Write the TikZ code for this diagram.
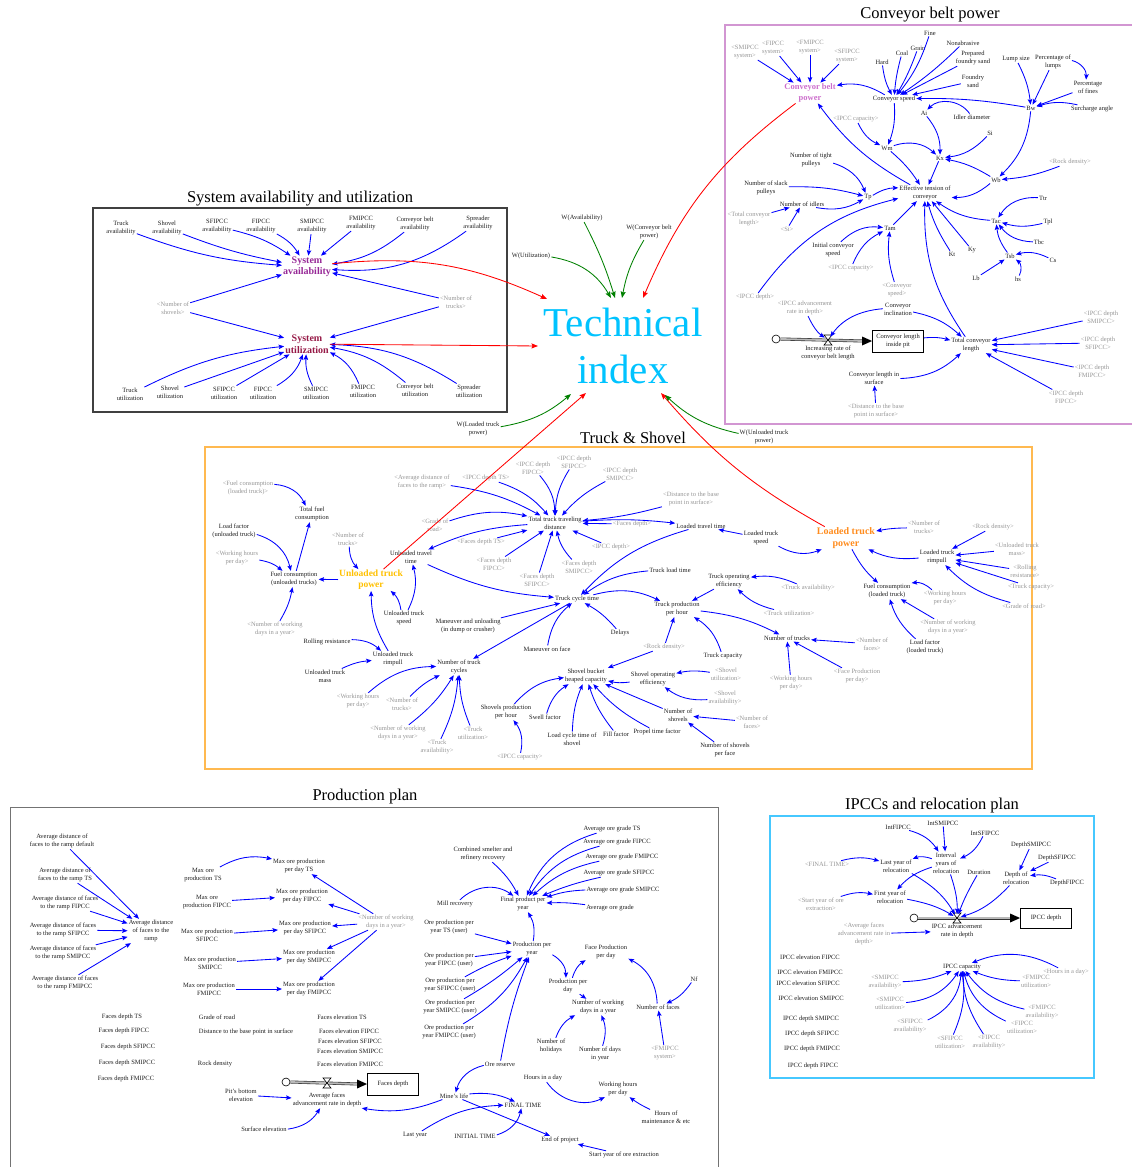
\documentclass[tikz,border=0pt]{standalone}
\usepackage{fontspec}
\setmainfont{Liberation Serif}
\usetikzlibrary{arrows.meta}
\definecolor{txt}{RGB}{30,30,30}
\definecolor{gtx}{RGB}{150,150,150}
\definecolor{tiblue}{RGB}{0,195,255}
\definecolor{cbpc}{RGB}{204,110,204}
\definecolor{sac}{RGB}{150,40,150}
\definecolor{suc}{RGB}{150,25,70}
\definecolor{utpc}{RGB}{255,192,0}
\definecolor{ltpc}{RGB}{255,140,30}
\definecolor{convb}{RGB}{210,150,210}
\definecolor{truckb}{RGB}{255,185,80}
\definecolor{ipccb}{RGB}{70,200,255}
\definecolor{greenarr}{RGB}{0,128,0}
\begin{document}
\begin{tikzpicture}[x=1pt,y=-1pt,
  lab/.style={font=\fontsize{6.5}{8}\selectfont, align=center, inner sep=1pt, text=txt},
  gl/.style={lab, text=gtx},
  e/.style={draw=blue, line width=0.85pt, -{Stealth[length=5.5pt,width=4.5pt,inset=1pt]}},
  re/.style={draw=red, line width=0.85pt, -{Stealth[length=6.5pt,width=5pt,inset=1pt]}},
  ge/.style={draw=greenarr, line width=0.85pt, -{Stealth[length=6.5pt,width=5pt,inset=1pt]}},
  L/.style={bend left=#1}, R/.style={bend right=#1},
  ttl/.style={font=\fontsize{16.5}{18}\selectfont, inner sep=0pt, text=black},
  stock/.style={lab, draw=black, line width=0.9pt, minimum width=51pt, minimum height=22pt},
  cloudn/.style={draw, circle, minimum size=8pt, inner sep=0pt, fill=white, line width=0.6pt},
  pipe/.style={draw=black!80, double=gray!55, double distance=1.8pt, line width=0.6pt},
  valve/.style={draw=black, fill=white, line width=0.6pt}
]
\useasboundingbox (0,0) rectangle (1132,1167);

% ---------- frames and titles
\draw[convb, line width=1.1pt] (725,25) rectangle (1145,424);
\draw[black!75, line width=1.3pt] (93,208) rectangle (507,412);
\draw[truckb, line width=1.1pt] (205,447) rectangle (1032,769);
\draw[black!55, line width=1pt] (10,807) rectangle (718,1175);
\draw[ipccb, line width=1.1pt] (770,816) rectangle (1094,1078);
\node[ttl] (tConv) at (930,15) {Conveyor belt power};
\node[ttl] (tSys) at (300,199) {System availability and utilization};
\node[ttl] (tTruck) at (633,438) {Truck \& Shovel};
\node[ttl] (tProd) at (365,797) {Production plan};
\node[ttl] (tIpcc) at (932,806) {IPCCs and relocation plan};

% ---------- technical index
\node[font=\fontsize{41}{47}\selectfont, text=tiblue, align=center, inner sep=0pt] (ti) at (623,346) {Technical\\index};
\coordinate (tiA) at (547,299);
\coordinate (tiB) at (611,298);
\coordinate (tiC) at (615,298);
\coordinate (tiD) at (622,298);
\coordinate (tiE) at (643,298);
\coordinate (tiF) at (538,346);
\coordinate (tiG) at (571,394);
\coordinate (tiH) at (586,393);
\coordinate (tiI) at (661,393);
\coordinate (tiJ) at (665,395);
\node[lab] (wav) at (582,218) {W(Availability)};
\node[lab] (wcb) at (649,232) {W(Conveyor belt\\power)};
\node[lab] (wut) at (531,256) {W(Utilization)};
\node[lab] (wlt) at (478,429) {W(Loaded truck\\power)};
\node[lab] (wut2) at (764,437) {W(Unloaded truck\\power)};

% ---------- conveyor nodes
\node[gl] (cSM) at (745,52) {<SMIPCC\\system>};
\node[gl] (cFI) at (773,48) {<FIPCC\\system>};
\node[gl] (cFM) at (810,47) {<FMIPCC\\system>};
\node[gl] (cSF) at (847,56) {<SFIPCC\\system>};
\node[lab,font=\fontsize{8.5}{10.7}\selectfont\bfseries,text=cbpc] (cbp) at (810,93) {Conveyor belt\\power};
\node[lab] (cspd) at (894,99) {Conveyor speed};
\node[lab] (chard) at (882,62) {Hard};
\node[lab] (ccoal) at (902,53) {Coal};
\node[lab] (cgrain) at (918,48) {Grain};
\node[lab] (cfine) at (930,33) {Fine};
\node[lab] (cnon) at (963,43) {Nonabrasive};
\node[lab] (cprep) at (973,58) {Prepared\\foundry sand};
\node[lab] (cfound) at (973,81) {Foundry\\sand};
\node[lab] (clump) at (1016,59) {Lump size};
\node[lab] (cplump) at (1053,62) {Percentage of\\lumps};
\node[lab] (cpfine) at (1088,87) {Percentage\\of fines};
\node[lab] (cbw) at (1031,108) {Bw};
\node[lab] (csurch) at (1092,109) {Surcharge angle};
\node[lab] (cai) at (924,113) {Ai};
\node[lab] (cidl) at (972,117) {Idler diameter};
\node[gl] (ccap) at (856,119) {<IPCC capacity>};
\node[lab] (csi) at (990,133) {Si};
\node[lab] (cwm) at (887,148) {Wm};
\node[lab] (ckx) at (940,158) {Kx};
\node[gl] (crock) at (1070,162) {<Rock density>};
\node[lab] (cwb) at (996,180) {Wb};
\node[lab] (ctight) at (811,160) {Number of tight\\pulleys};
\node[lab] (cslack) at (766,188) {Number of slack\\pulleys};
\node[lab] (ctp) at (868,197) {Tp};
\node[lab] (ceff) at (925,193) {Effective tension of\\conveyor};
\node[lab] (cidlers) at (802,204) {Number of idlers};
\node[lab] (cttr) at (1043,198) {Ttr};
\node[gl] (ctcl) at (749,219) {<Total conveyor\\length>};
\node[gl] (csi2) at (787,229) {<Si>};
\node[lab] (ctam) at (890,228) {Tam};
\node[lab] (ckt) at (952,254) {Kt};
\node[lab] (cky) at (972,250) {Ky};
\node[lab] (ctac) at (996,221) {Tac};
\node[lab] (ctpl) at (1048,222) {Tpl};
\node[lab] (ctbc) at (1039,242) {Tbc};
\node[lab] (ctsb) at (1010,256) {Tsb};
\node[lab] (ccs) at (1053,260) {Cs};
\node[lab] (clb) at (976,278) {Lb};
\node[lab] (chs) at (1018,279) {hs};
\node[lab] (cinit) at (833,250) {Initial conveyor\\speed};
\node[gl] (ccap2) at (851,268) {<IPCC capacity>};
\node[gl] (cspd2) at (897,290) {<Conveyor\\speed>};
\node[gl] (cdepth) at (755,297) {<IPCC depth>};
\node[gl] (cadv) at (805,308) {<IPCC advancement\\rate in depth>};
\node[lab] (cincl) at (898,309) {Conveyor\\inclination};
\node[lab] (cinc) at (828,353) {Increasing rate of\\conveyor belt length};
\node[stock] (cstock) at (898,341) {Conveyor length\\inside pit};
\node[lab] (ctot) at (971,345) {Total conveyor\\length};
\node[gl] (cdSM) at (1101,317) {<IPCC depth\\SMIPCC>};
\node[gl] (cdSF) at (1098,343) {<IPCC depth\\SFIPCC>};
\node[gl] (cdFM) at (1092,371) {<IPCC depth\\FMIPCC>};
\node[gl] (cdFI) at (1066,397) {<IPCC depth\\FIPCC>};
\node[lab] (csurf) at (874,378) {Conveyor length in\\surface};
\node[gl] (cdist) at (876,411) {<Distance to the base\\point in surface>};
\node[cloudn] (ccloud) at (776,339) {};
\coordinate (cvalve) at (828,340);
\draw[pipe] (ccloud.east) -- ([xshift=-8pt]cstock.west);
\fill[black] (cstock.west) -- ++(-10,-4.5) -- ++(0,9) -- cycle;
\draw[valve] (cvalve) ++(-4,-5) -- ++(8,0) -- ++(-8,10) -- ++(8,0) -- cycle;

% conveyor edges
\draw[e] (cSM) -- (cbp);
\draw[e] (cFI) -- (cbp);
\draw[e] (cFM) -- (cbp);
\draw[e] (cSF) -- (cbp);
\draw[e] (cspd) to[R=20] (cbp);
\draw[e] (ceff) to[L=12] (cbp);
\draw[e] (chard) to[R=10] (cspd);
\draw[e] (ccoal) to[R=5] (cspd);
\draw[e] (cgrain) to[L=5] (cspd);
\draw[e] (cfine) to[L=10] (cspd);
\draw[e] (cnon) to[L=5] (cspd);
\draw[e] (cprep) -- (cspd);
\draw[e] (cfound) -- (cspd);
\draw[e] (cbw) to[R=5] (cspd);
\draw[e] (clump) to[L=10] (cbw);
\draw[e] (cplump) -- (cbw);
\draw[e] (cplump) to[L=40] (cpfine);
\draw[e] (cpfine) -- (cbw);
\draw[e] (csurch) to[R=15] (cbw);
\draw[e] (cidl) to[R=50] (cai);
\draw[e] (cai) to[L=20] (ckx);
\draw[e] (cspd) to[L=12] (cwm);
\draw[e] (ccap) to[R=20] (cwm);
\draw[e] (cwm) to[L=30] (ckx);
\draw[e] (cwm) to[L=8] (ceff);
\draw[e] (csi) to[L=20] (ckx);
\draw[e] (cwb) to[R=10] (ckx);
\draw[e] (ckx) -- (ceff);
\draw[e] (cbw) to[L=20] (cwb);
\draw[e] (crock) to[L=8] (cwb);
\draw[e] (cwb) to[L=20] (ceff);
\draw[e] (ctight) to[L=25] (ctp);
\draw[e] (cslack) to[L=8] (ctp);
\draw[e] (cidlers) to[R=20] (ctp);
\draw[e] (ctcl) -- (cidlers);
\draw[e] (csi2) -- (cidlers);
\draw[e] (ctp) to[L=15] (ceff);
\draw[e] (cttr) to[R=30] (ctac);
\draw[e] (ctpl) to[L=15] (ctac);
\draw[e] (ctbc) to[L=25] (ctac);
\draw[e] (ctsb) to[L=15] (ctac);
\draw[e] (ccs) to[R=20] (ctsb);
\draw[e] (clb) -- (ctsb);
\draw[e] (chs) to[R=40] (ctsb);
\draw[e] (ctac) to[L=15] (ceff);
\draw[e] (ckt) to[L=8] (ceff);
\draw[e] (cky) -- (ceff);
\draw[e] (ctam) -- (ceff);
\draw[e] (cinit) to[L=25] (ctam);
\draw[e] (ccap2) to[L=20] (ctam);
\draw[e] (cspd2) to[L=12] (ctam);
\draw[e] (cdepth) to[L=20] (ceff);
\draw[e] (ctot) to[L=18] (ceff);
\draw[e] (cincl) to[L=15] (ctot);
\draw[e, shorten >=4pt] (cadv) to[R=15] (cvalve);
\draw[e, shorten >=4pt] (cincl) to[R=25] (cvalve);
\draw[e] (cstock) to[L=10] (ctot);
\draw[e] (cdSM) -- (ctot);
\draw[e] (cdSF) -- (ctot);
\draw[e] (cdFM) -- (ctot);
\draw[e] (cdFI) -- (ctot);
\draw[e] (csurf) to[R=20] (ctot);
\draw[e] (cdist) -- (csurf);

% ---------- system availability and utilization
\node[lab] (sT) at (121,228) {Truck\\availability};
\node[lab] (sS) at (167,228) {Shovel\\availability};
\node[lab] (sSF) at (217,226) {SFIPCC\\availability};
\node[lab] (sFI) at (261,226) {FIPCC\\availability};
\node[lab] (sSM) at (312,226) {SMIPCC\\availability};
\node[lab] (sFM) at (361,223) {FMIPCC\\availability};
\node[lab] (sCB) at (415,224) {Conveyor belt\\availability};
\node[lab] (sSp) at (478,223) {Spreader\\availability};
\node[lab,font=\fontsize{10}{11.5}\selectfont\bfseries,text=sac] (sa) at (307,267) {System\\availability};
\node[gl] (sns) at (173,308) {<Number of\\shovels>};
\node[gl] (snt) at (456,302) {<Number of\\trucks>};
\node[lab,font=\fontsize{10}{11.5}\selectfont\bfseries,text=suc] (su) at (307,344) {System\\utilization};
\node[lab] (uT) at (130,394) {Truck\\utilization};
\node[lab] (uS) at (170,392) {Shovel\\utilization};
\node[lab] (uSF) at (224,393) {SFIPCC\\utilization};
\node[lab] (uFI) at (263,393) {FIPCC\\utilization};
\node[lab] (uSM) at (316,393) {SMIPCC\\utilization};
\node[lab] (uFM) at (363,391) {FMIPCC\\utilization};
\node[lab] (uCB) at (415,390) {Conveyor belt\\utilization};
\node[lab] (uSp) at (469,391) {Spreader\\utilization};
\draw[e] (sT) to[R=8] (sa);
\draw[e] (sS) to[R=5] (sa);
\draw[e] (sSF) to[L=10] (sa);
\draw[e] (sFI) to[L=15] (sa);
\draw[e] (sSM) -- (sa);
\draw[e] (sFM) -- (sa);
\draw[e] (sCB) to[L=15] (sa);
\draw[e] (sSp) to[L=20] (sa);
\draw[e] (sns) -- (sa);
\draw[e] (sns) -- (su);
\draw[e] (snt) -- (sa);
\draw[e] (snt) -- (su);
\draw[e] (uT) to[L=10] (su);
\draw[e] (uS) -- (su);
\draw[e] (uSF) -- (su);
\draw[e] (uFI) to[R=20] (su);
\draw[e] (uSM) to[L=15] (su);
\draw[e] (uFM) to[R=20] (su);
\draw[e] (uCB) to[R=15] (su);
\draw[e] (uSp) to[R=15] (su);

% ---------- truck and shovel nodes
\node[gl] (tfcl0) at (248,488) {<Fuel consumption\\(loaded truck)>};
\node[lab] (ttfc) at (312,514) {Total fuel\\consumption};
\node[lab] (tlfu) at (234,531) {Load factor\\(unloaded truck)};
\node[gl] (twh) at (237,558) {<Working hours\\per day>};
\node[lab] (tfcu) at (294,579) {Fuel consumption\\(unloaded trucks)};
\node[gl] (tnt) at (348,539) {<Number of\\trucks>};
\node[lab,font=\fontsize{9.5}{10.8}\selectfont\bfseries,text=utpc] (tutp) at (371,580) {Unloaded truck\\power};
\node[lab] (tutt) at (411,557) {Unloaded travel\\time};
\node[gl] (tavg) at (422,482) {<Average distance of\\faces to the ramp>};
\node[gl] (tiTS) at (486,478) {<IPCC depth TS>};
\node[gl] (tiFI) at (533,468) {<IPCC depth\\FIPCC>};
\node[gl] (tiSF) at (574,462) {<IPCC depth\\SFIPCC>};
\node[gl] (tiSM) at (620,474) {<IPCC depth\\SMIPCC>};
\node[gl] (tgr) at (435,525) {<Grade of\\road>};
\node[lab] (tttd) at (555,523) {Total truck traveling\\distance};
\node[gl] (tfdTS) at (481,542) {<Faces depth TS>};
\node[gl] (tfdFI) at (494,564) {<Faces depth\\FIPCC>};
\node[gl] (tfdSF) at (537,580) {<Faces depth\\SFIPCC>};
\node[gl] (tfdSM) at (579,567) {<Faces depth\\SMIPCC>};
\node[gl] (tfd) at (632,524) {<Faces depth>};
\node[gl] (tidp) at (611,547) {<IPCC depth>};
\node[gl] (tdist) at (691,499) {<Distance to the base\\point in surface>};
\node[lab] (tlt) at (701,526) {Loaded travel time};
\node[lab] (tlts) at (761,538) {Loaded truck\\speed};
\node[lab,font=\fontsize{10}{11.2}\selectfont\bfseries,text=ltpc] (tltp) at (846,538) {Loaded truck\\power};
\node[gl] (tnt2) at (924,527) {<Number of\\trucks>};
\node[gl] (trock) at (993,527) {<Rock density>};
\node[gl] (tutm2) at (1017,549) {<Unloaded truck\\mass>};
\node[lab] (tltr) at (937,557) {Loaded truck\\rimpull};
\node[gl] (trr2) at (1025,571) {<Rolling\\resistance>};
\node[gl] (ttc2) at (1031,587) {<Truck capacity>};
\node[gl] (tgr2) at (1024,606) {<Grade of road>};
\node[lab] (tfcl) at (887,591) {Fuel consumption\\(loaded truck)};
\node[gl] (twh2) at (945,598) {<Working hours\\per day>};
\node[gl] (tnwd2) at (948,627) {<Number of working\\days in a year>};
\node[lab] (tlfl) at (925,647) {Load factor\\(loaded truck)};
\node[lab] (ttlt) at (670,570) {Truck load time};
\node[lab] (ttoe) at (729,581) {Truck operating\\efficiency};
\node[gl] (ttav) at (808,588) {<Truck availability>};
\node[gl] (ttut) at (789,613) {<Truck utilization>};
\node[lab] (ttph) at (677,609) {Truck production\\per hour};
\node[lab] (tnot) at (787,638) {Number of trucks};
\node[lab] (ttct) at (577,599) {Truck cycle time};
\node[lab] (tdel) at (620,633) {Delays};
\node[lab] (tuts) at (404,618) {Unloaded truck\\speed};
\node[gl] (tnwd) at (275,629) {<Number of working\\days in a year>};
\node[lab] (tmu) at (468,626) {Maneuver and unloading\\(in dump or crusher)};
\node[lab] (tmf) at (547,649) {Maneuver on face};
\node[lab] (trr) at (327,642) {Rolling resistance};
\node[lab] (tutr) at (393,659) {Unloaded truck\\rimpull};
\node[lab] (tutm) at (325,676) {Unloaded truck\\mass};
\node[lab] (tntc) at (459,667) {Number of truck\\cycles};
\node[gl] (twh4) at (358,701) {<Working hours\\per day>};
\node[gl] (tnt4) at (402,704) {<Number of\\trucks>};
\node[gl] (tnwd4) at (398,733) {<Number of working\\days in a year>};
\node[gl] (ttav4) at (437,747) {<Truck\\availability>};
\node[gl] (ttut4) at (473,733) {<Truck\\utilization>};
\node[lab] (tsbh) at (586,676) {Shovel bucket\\heaped capacity};
\node[lab] (tspph) at (506,712) {Shovels production\\per hour};
\node[lab] (tswell) at (545,717) {Swell factor};
\node[lab] (tlct) at (572,739) {Load cycle time of\\shovel};
\node[lab] (tff) at (616,734) {Fill factor};
\node[gl] (tcap3) at (520,757) {<IPCC capacity>};
\node[lab] (tptf) at (657,732) {Propel time factor};
\node[lab] (tns) at (678,715) {Number of\\shovels};
\node[gl] (tnf2) at (752,722) {<Number of\\faces>};
\node[lab] (tnspf) at (725,750) {Number of shovels\\per face};
\node[lab] (tsoe) at (653,679) {Shovel operating\\efficiency};
\node[gl] (tsut) at (726,674) {<Shovel\\utilization>};
\node[gl] (tsav) at (725,698) {<Shovel\\availability>};
\node[gl] (trock3) at (664,647) {<Rock density>};
\node[lab] (ttcap) at (723,656) {Truck capacity};
\node[gl] (twh3) at (791,683) {<Working hours\\per day>};
\node[gl] (tfp) at (857,676) {<Face Production\\per day>};
\node[gl] (tnf) at (872,644) {<Number of\\faces>};

% truck edges
\draw[e] (tfcl0) to[L=30] (ttfc);
\draw[e] (tfcu) -- (ttfc);
\draw[e] (tlfu) to[L=30] (tfcu);
\draw[e] (twh) to[L=15] (tfcu);
\draw[e] (tutp) -- (tfcu);
\draw[e] (tnwd) to[R=10] (tfcu);
\draw[e] (tnt) to[R=20] (tutp);
\draw[e] (tuts) to[R=20] (tutp);
\draw[e] (tuts) to[R=20] (tutt);
\draw[e] (tutr) to[L=15] (tutp);
\draw[e] (trr) to[L=20] (tutr);
\draw[e] (tutm) to[L=10] (tutr);
\draw[e] (tttd) to[R=10] (tutt);
\draw[e] (tutt) to[R=10] (ttct);
\draw[e] (tavg) to[L=10] (tttd);
\draw[e] (tiTS) to[L=15] (tttd);
\draw[e] (tiFI) to[L=20] (tttd);
\draw[e] (tiSF) to[R=15] (tttd);
\draw[e] (tiSM) to[R=10] (tttd);
\draw[e] (tgr) to[L=15] (tttd);
\draw[e] (tfdTS) -- (tttd);
\draw[e] (tfdFI) -- (tttd);
\draw[e] (tfdSF) -- (tttd);
\draw[e] (tfdSM) to[L=15] (tttd);
\draw[e] (tfd) -- (tttd);
\draw[e] (tidp) -- (tttd);
\draw[e] (tdist) to[L=5] (tttd);
\draw[e] (tttd) to[L=5] (tlt);
\draw[e] (tlts) -- (tlt);
\draw[e] (tlts) to[R=25] (tltp);
\draw[e] (tlt) to[R=15] (ttct);
\draw[e] (ttlt) to[R=15] (ttct);
\draw[e] (tnt2) to[R=5] (tltp);
\draw[e] (tltr) to[L=15] (tltp);
\draw[e] (trock) -- (tltr);
\draw[e] (tutm2) -- (tltr);
\draw[e] (trr2) -- (tltr);
\draw[e] (ttc2) -- (tltr);
\draw[e] (tgr2) to[L=15] (tltr);
\draw[e] (tltp) to[R=10] (tfcl);
\draw[e] (twh2) to[R=25] (tfcl);
\draw[e] (tnwd2) -- (tfcl);
\draw[e] (tlfl) to[L=15] (tfcl);
\draw[e] (ttav) to[R=15] (ttoe);
\draw[e] (ttut) to[L=15] (ttoe);
\draw[e] (ttoe) -- (ttph);
\draw[e] (ttct) to[L=20] (ttph);
\draw[e] (ttct) -- (tntc);
\draw[e] (tmu) -- (ttct);
\draw[e] (tmf) to[L=20] (ttct);
\draw[e] (tdel) to[R=10] (ttct);
\draw[e] (ttph) to[L=10] (tnot);
\draw[e] (trock3) -- (ttph);
\draw[e] (ttcap) to[R=20] (ttph);
\draw[e] (tnf) -- (tnot);
\draw[e] (twh3) -- (tnot);
\draw[e] (tfp) -- (tnot);
\draw[e] (trock3) -- (tsbh);
\draw[e] (tsoe) to[L=10] (tsbh);
\draw[e] (tsut) to[R=10] (tsoe);
\draw[e] (tsav) to[L=20] (tsoe);
\draw[e] (tns) -- (tsbh);
\draw[e] (tnf2) -- (tns);
\draw[e] (tnspf) -- (tns);
\draw[e] (tptf) to[L=10] (tsbh);
\draw[e] (tff) to[L=10] (tsbh);
\draw[e] (tlct) to[L=10] (tsbh);
\draw[e] (tswell) to[L=20] (tsbh);
\draw[e] (tspph) to[L=20] (tsbh);
\draw[e] (tcap3) to[R=25] (tspph);
\draw[e] (twh4) to[L=20] (tntc);
\draw[e] (tnt4) to[L=10] (tntc);
\draw[e] (tnwd4) to[R=10] (tntc);
\draw[e] (ttav4) to[R=10] (tntc);
\draw[e] (ttut4) to[L=10] (tntc);

% ---------- production plan nodes
\node[lab] (padd) at (62,841) {Average distance of\\faces to the ramp default};
\node[lab] (padTS) at (65,875) {Average distance of\\faces to the ramp TS};
\node[lab] (padFI) at (65,903) {Average distance of faces\\to the ramp FIPCC};
\node[lab] (padSF) at (63,930) {Average distance of faces\\to the ramp SFIPCC};
\node[lab] (padSM) at (63,953) {Average distance of faces\\to the ramp SMIPCC};
\node[lab] (padFM) at (65,983) {Average distance of faces\\to the ramp FMIPCC};
\node[lab] (pavg) at (151,931) {Average distance\\of faces to the\\ramp};
\node[lab] (pmTS) at (203,875) {Max ore\\production TS};
\node[lab] (pmdTS) at (299,866) {Max ore production\\per day TS};
\node[lab] (pmFI) at (207,902) {Max ore\\production FIPCC};
\node[lab] (pmdFI) at (302,896) {Max ore production\\per day FIPCC};
\node[lab] (pmSF) at (207,935) {Max ore production\\SFIPCC};
\node[lab] (pmdSF) at (305,928) {Max ore production\\per day SFIPCC};
\node[lab] (pmSM) at (210,963) {Max ore production\\SMIPCC};
\node[lab] (pmdSM) at (309,957) {Max ore production\\per day SMIPCC};
\node[lab] (pmFM) at (209,989) {Max ore production\\FMIPCC};
\node[lab] (pmdFM) at (309,989) {Max ore production\\per day FMIPCC};
\node[gl] (pnwd) at (386,922) {<Number of working\\days in a year>};
\node[lab] (pfTS) at (122,1017) {Faces depth TS};
\node[lab] (pfFI) at (124,1031) {Faces depth FIPCC};
\node[lab] (pfSF) at (128,1047) {Faces depth SFIPCC};
\node[lab] (pfSM) at (127,1063) {Faces depth SMIPCC};
\node[lab] (pfFM) at (126,1079) {Faces depth FMIPCC};
\node[lab] (pgrade) at (217,1017) {Grade of road};
\node[lab] (pdist) at (246,1032) {Distance to the base point in surface};
\node[lab] (prock) at (215,1064) {Rock density};
\node[lab] (peTS) at (342,1017) {Faces elevation TS};
\node[lab] (peFI) at (349,1031) {Faces elevation FIPCC};
\node[lab] (peSF) at (350,1041) {Faces elevation SFIPCC};
\node[lab] (peSM) at (350,1051) {Faces elevation SMIPCC};
\node[lab] (peFM) at (350,1064) {Faces elevation FMIPCC};
\node[cloudn] (pcloud) at (286,1082) {};
\coordinate (pvalve) at (327,1083);
\node[stock] (pstock) at (393,1084) {Faces depth};
\draw[pipe] (pcloud.east) -- ([xshift=-8pt]pstock.west);
\fill[black] (pstock.west) -- ++(-10,-4.5) -- ++(0,9) -- cycle;
\draw[valve] (pvalve) ++(-4,-5) -- ++(8,0) -- ++(-8,10) -- ++(8,0) -- cycle;
\node[lab] (ppit) at (241,1095) {Pit's bottom\\elevation};
\node[lab] (pafa) at (327,1100) {Average faces\\advancement rate in depth};
\node[lab] (psurf) at (264,1129) {Surface elevation};
\node[lab] (pore) at (500,1064) {Ore reserve};
\node[lab] (pml) at (454,1096) {Mine's life};
\node[lab] (pft) at (523,1105) {FINAL TIME};
\node[lab] (plast) at (415,1135) {Last year};
\node[lab] (pinit) at (475,1136) {INITIAL TIME};
\node[lab] (peop) at (560,1140) {End of project};
\node[lab] (pstart) at (624,1155) {Start year of ore extraction};
\node[lab] (phid) at (543,1078) {Hours in a day};
\node[lab] (pwh) at (618,1089) {Working hours\\per day};
\node[lab] (phm) at (666,1117) {Hours of\\maintenance \& etc};
\node[lab] (phol) at (551,1046) {Number of\\holidays};
\node[lab] (pdays) at (600,1054) {Number of days\\in year};
\node[gl] (pfmi) at (665,1053) {<FMIPCC\\system>};
\node[lab] (pgTS) at (612,829) {Average ore grade TS};
\node[lab] (pgFI) at (617,842) {Average ore grade FIPCC};
\node[lab] (pgFM) at (622,857) {Average ore grade FMIPCC};
\node[lab] (pgSF) at (619,873) {Average ore grade SFIPCC};
\node[lab] (pgSM) at (623,890) {Average ore grade SMIPCC};
\node[lab] (pg) at (610,908) {Average ore grade};
\node[lab] (pcomb) at (483,854) {Combined smelter and\\refinery recovery};
\node[lab] (pfpy) at (523,904) {Final product per\\year};
\node[lab] (pmill) at (455,904) {Mill recovery};
\node[lab] (popTS) at (449,927) {Ore production per\\year TS (user)};
\node[lab] (pppy) at (532,949) {Production per\\year};
\node[lab] (popFI) at (449,960) {Ore production per\\year FIPCC (user)};
\node[lab] (popSF) at (450,985) {Ore production per\\year SFIPCC (user)};
\node[lab] (popSM) at (450,1007) {Ore production per\\year SMIPCC (user)};
\node[lab] (popFM) at (449,1032) {Ore production per\\year FMIPCC (user)};
\node[lab] (pfppd) at (606,952) {Face Production\\per day};
\node[lab] (pppd) at (568,986) {Production per\\day};
\node[lab] (pnwdy) at (598,1007) {Number of working\\days in a year};
\node[lab] (pnf) at (658,1007) {Number of faces};
\node[lab] (pNf) at (694,979) {Nf};

% production edges
\draw[e] (padd) -- (pavg);
\draw[e] (padTS) -- (pavg);
\draw[e] (padFI) -- (pavg);
\draw[e] (padSF) -- (pavg);
\draw[e] (padSM) -- (pavg);
\draw[e] (padFM) -- (pavg);
\draw[e] (pmTS) to[L=20] (pmdTS);
\draw[e] (pmFI) -- (pmdFI);
\draw[e] (pmSF) -- (pmdSF);
\draw[e] (pmSM) -- (pmdSM);
\draw[e] (pmFM) -- (pmdFM);
\draw[e] (pnwd) -- (pmdTS);
\draw[e] (pnwd) -- (pmdFI);
\draw[e] (pnwd) -- (pmdSF);
\draw[e] (pnwd) -- (pmdSM);
\draw[e] (pnwd) -- (pmdFM);
\draw[e] (pcomb) to[L=10] (pfpy);
\draw[e] (pmill) to[L=40] (pfpy);
\draw[e] (pgTS) to[R=25] (pfpy);
\draw[e] (pgFI) to[R=20] (pfpy);
\draw[e] (pgFM) to[R=15] (pfpy);
\draw[e] (pgSF) to[R=5] (pfpy);
\draw[e] (pgSM) to[R=8] (pfpy);
\draw[e] (pg) to[R=5] (pfpy);
\draw[e] (pppy) to[R=20] (pfpy);
\draw[e] (popTS) -- (pppy);
\draw[e] (popFI) -- (pppy);
\draw[e] (popSF) to[L=5] (pppy);
\draw[e] (popSM) to[R=5] (pppy);
\draw[e] (popFM) to[R=15] (pppy);
\draw[e] (pore) to[L=5] (pppy);
\draw[e] (pppy) to[L=30] (pppd);
\draw[e] (pppd) to[L=20] (pfppd);
\draw[e] (pppd) -- (pnwdy);
\draw[e] (phol) to[L=20] (pnwdy);
\draw[e] (pdays) to[R=20] (pnwdy);
\draw[e] (pnf) to[R=30] (pfppd);
\draw[e] (pNf) to[L=15] (pnf);
\draw[e] (pfmi) -- (pnf);
\draw[e] (ppit) -- (pafa);
\draw[e] (psurf) to[R=25] (pafa);
\draw[e] (pml) to[L=15] (pafa);
\draw[e] (pore) to[R=30] (pml);
\draw[e] (pml) to[L=15] (pft);
\draw[e] (pml) -- (peop);
\draw[e] (plast) to[L=15] (pft);
\draw[e] (pinit) to[R=30] (pft);
\draw[e] (pstart) -- (peop);
\draw[e] (phid) to[R=40] (pwh);
\draw[e] (phm) to[L=5] (pwh);

% ---------- IPCC nodes
\node[lab] (iif) at (898,827) {IntFIPCC};
\node[lab] (iism) at (943,823) {IntSMIPCC};
\node[lab] (iisf) at (985,833) {IntSFIPCC};
\node[lab] (iint) at (946,863) {Interval\\years of\\relocation};
\node[lab] (ily) at (896,866) {Last year of\\relocation};
\node[gl] (ift) at (827,864) {<FINAL TIME>};
\node[lab] (idur) at (979,872) {Duration};
\node[lab] (idsm) at (1031,845) {DepthSMIPCC};
\node[lab] (idsf) at (1057,858) {DepthSFIPCC};
\node[lab] (idor) at (1016,878) {Depth of\\relocation};
\node[lab] (idfi) at (1067,883) {DepthFIPCC};
\node[lab] (ify) at (890,897) {First year of\\relocation};
\node[gl] (isy) at (821,904) {<Start year of ore\\extraction>};
\node[cloudn] (icloud) at (914,918) {};
\coordinate (ivalve) at (957,918);
\node[stock, minimum height=20pt] (istock) at (1046,918) {IPCC depth};
\draw[pipe] (icloud.east) -- ([xshift=-8pt]istock.west);
\fill[black] (istock.west) -- ++(-10,-4.5) -- ++(0,9) -- cycle;
\draw[valve] (ivalve) ++(-4,-5) -- ++(8,0) -- ++(-8,10) -- ++(8,0) -- cycle;
\node[lab] (iiar) at (957,931) {IPCC advancement\\rate in depth};
\node[gl] (iafa) at (864,934) {<Average faces\\advancement rate in\\depth>};
\node[lab] (icap) at (962,967) {IPCC capacity};
\node[gl] (ih) at (1066,972) {<Hours in a day>};
\node[gl] (ismav) at (885,982) {<SMIPCC\\availability>};
\node[gl] (ifmu) at (1036,981) {<FMIPCC\\utilization>};
\node[gl] (ismu) at (890,1003) {<SMIPCC\\utilization>};
\node[gl] (ifma) at (1042,1012) {<FMIPCC\\availability>};
\node[gl] (isfa) at (910,1026) {<SFIPCC\\availability>};
\node[gl] (ifiu) at (1022,1027) {<FIPCC\\utilization>};
\node[gl] (isfu) at (950,1042) {<SFIPCC\\utilization>};
\node[gl] (ifia) at (989,1042) {<FIPCC\\availability>};
\node[lab] (ieFI) at (810,957) {IPCC elevation FIPCC};
\node[lab] (ieFM) at (810,972) {IPCC elevation FMIPCC};
\node[lab] (ieSF) at (808,983) {IPCC elevation SFIPCC};
\node[lab] (ieSM) at (811,998) {IPCC elevation SMIPCC};
\node[lab] (idSM) at (811,1019) {IPCC depth SMIPCC};
\node[lab] (idSF) at (812,1034) {IPCC depth SFIPCC};
\node[lab] (idFM) at (812,1049) {IPCC depth FMIPCC};
\node[lab] (idFI) at (813,1066) {IPCC depth FIPCC};

% IPCC edges
\draw[e] (iif) to[L=20] (iint);
\draw[e] (iism) -- (iint);
\draw[e] (iisf) to[L=20] (iint);
\draw[e] (iint) to[R=20] (ily);
\draw[e] (iint) to[R=15] (ify);
\draw[e] (ift) to[L=15] (ily);
\draw[e] (isy) to[L=15] (ify);
\draw[e, shorten >=4pt] (ily) to[L=15] (ivalve);
\draw[e, shorten >=4pt] (ify) to[L=10] (ivalve);
\draw[e, shorten >=4pt] (iint) to[L=10] (ivalve);
\draw[e, shorten >=4pt] (idur) to[R=5] (ivalve);
\draw[e, shorten >=4pt] (idor) to[L=15] (ivalve);
\draw[e] (idsm) -- (idor);
\draw[e] (idsf) -- (idor);
\draw[e] (idfi) to[R=15] (idor);
\draw[e] (iafa) -- (iiar);
\draw[e] (ih) to[R=25] (icap);
\draw[e] (ismav) to[R=10] (icap);
\draw[e] (ifmu) to[L=10] (icap);
\draw[e] (ismu) to[R=25] (icap);
\draw[e] (ifma) to[L=20] (icap);
\draw[e] (isfa) to[R=30] (icap);
\draw[e] (ifiu) to[L=25] (icap);
\draw[e] (isfu) to[R=15] (icap);
\draw[e] (ifia) to[L=15] (icap);

% ---------- technical index links
\draw[re] (sa) to[L=15] (tiA);
\draw[re] (su) -- (tiF);
\draw[re] (cbp) to[R=15] (tiE);
\draw[re] (tutp) -- (tiH);
\draw[re] (tltp) to[L=10] (tiI);
\draw[ge] (wav) to[L=5] (tiC);
\draw[ge] (wut) to[L=25] (tiB);
\draw[ge] (wcb) to[R=10] (tiD);
\draw[ge] (wlt) to[R=15] (tiG);
\draw[ge] (wut2) to[L=15] (tiJ);
\end{tikzpicture}
\end{document}
